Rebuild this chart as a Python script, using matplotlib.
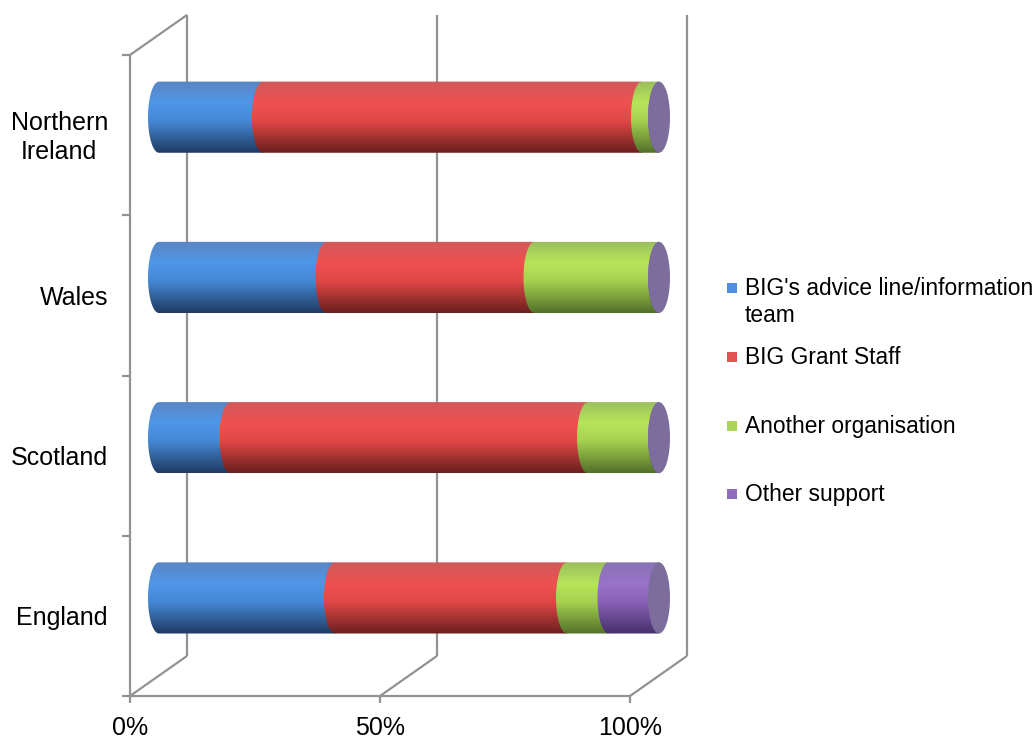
import numpy as np
import matplotlib
matplotlib.use('Agg')
import matplotlib.pyplot as plt
from matplotlib.patches import Ellipse, PathPatch, Rectangle
from matplotlib.path import Path
from matplotlib.colors import LinearSegmentedColormap

plt.rcParams['font.family'] = ['Liberation Sans', 'DejaVu Sans']

# share of respondents by source of support (%), bottom row first
regions = ['England', 'Scotland', 'Wales', 'Northern\nIreland']
advice_line = [35.2, 14.3, 33.5, 20.8]
grant_staff = [46.4, 71.5, 41.6, 75.8]
another_org = [8.3, 14.2, 24.9, 3.4]
other_support = [10.1, 0.0, 0.0, 0.0]
series_names = ["BIG's advice line/information\nteam", 'BIG Grant Staff',
                'Another organisation', 'Other support']
x_ticks = [0, 50, 100]
x_tick_labels = ['0%', '50%', '100%']

# shading stops (top edge, highlight, mid, bottom) for each series
shades = [
    ['#5a86c4', '#4f96e8', '#4589d6', '#1f3a62'],
    ['#d05a5a', '#ee5150', '#e04846', '#6a1e1e'],
    ['#9cbc5c', '#b6e65a', '#a6d250', '#52702a'],
    ['#8872b4', '#9a72c8', '#8a62b8', '#44306a'],
]
legend_colors = ['#4f8ede', '#e25452', '#aad45a', '#8e6cbe']
cap_color = '#7d6d9c'
grid_color = '#929292'

fig = plt.figure(figsize=(10.36, 7.44), dpi=100)
# 0..100 % spans 500 px; axes run a bit further right so the end caps are not clipped
ax = fig.add_axes([130 / 1036, 48 / 744, 600 / 1036, 641 / 744])
ax.set_xlim(0, 120)
ax.set_ylim(-0.5, 3.5)
ax.axis('off')

# depth of the 3-D box in data units (back wall offset)
depth_x, depth_y = 11.4, 0.25
# cylinders sit half way back
cyl_dx, cyl_dy = 5.8, 0.112
rx, ry = 2.2, 0.222

line_kw = dict(color=grid_color, lw=1.6, clip_on=False, solid_capstyle='butt', zorder=1)

# floor
ax.plot([-1.6, 100], [-0.5, -0.5], **line_kw)
for x in x_ticks:
    ax.plot([x, x], [-0.5, -0.545], **line_kw)
    ax.plot([x, x + depth_x], [-0.5, -0.5 + depth_y], **line_kw)
    # back wall gridlines
    ax.plot([x + depth_x, x + depth_x], [-0.5 + depth_y, 3.5 + depth_y], **line_kw)

# left wall
ax.plot([0, 0], [-0.5, 3.5], **line_kw)
ax.plot([0, depth_x], [3.5, 3.5 + depth_y], **line_kw)
for y in [0.5, 1.5, 2.5, 3.5]:
    ax.plot([-1.6, 0], [y, y], **line_kw)

# cylinders
values = np.array([advice_line, grant_staff, another_org, other_support])
grad = np.linspace(0, 1, 256).reshape(-1, 1)
cmaps = [LinearSegmentedColormap.from_list('s%d' % k,
         list(zip([0.0, 0.3, 0.55, 1.0], stops)))
         for k, stops in enumerate(shades)]

for i in range(len(regions)):
    yc = i + cyl_dy
    left = 0.0
    for k in range(len(series_names)):
        right = left + values[k, i]
        xa, xb = left + cyl_dx, right + cyl_dx
        th = np.linspace(np.pi / 2, 3 * np.pi / 2, 60)
        verts = list(zip(xa + rx * np.cos(th), yc + ry * np.sin(th)))
        verts += [(xb, yc - ry), (xb, yc + ry), (xa, yc + ry)]
        codes = [Path.MOVETO] + [Path.LINETO] * (len(verts) - 2) + [Path.CLOSEPOLY]
        patch = PathPatch(Path(verts, codes), facecolor='none', edgecolor='none')
        ax.add_patch(patch)
        im = ax.imshow(grad, cmap=cmaps[k], aspect='auto', interpolation='bilinear',
                       extent=[xa - rx, xb, yc - ry, yc + ry], origin='upper',
                       zorder=2 + k * 0.01)
        im.set_clip_path(patch)
        left = right
    ax.add_patch(Ellipse((left + cyl_dx, yc), 2 * rx, 2 * ry, facecolor=cap_color,
                         edgecolor='none', zorder=3))

ax.set_xlim(0, 120)
ax.set_ylim(-0.5, 3.5)

# category labels on the front of the left wall
for i, name in enumerate(regions):
    ax.text(-4.4, i - 0.015, name, ha='right', va='center', multialignment='center',
            fontsize=18, color='black', clip_on=False, linespacing=1.3)

for x, lab in zip(x_ticks, x_tick_labels):
    ax.text(x, -0.7, lab, ha='center', va='center', fontsize=18, clip_on=False)

# legend
legend_y = [288, 357, 426, 494]
for name, col, y in zip(series_names, legend_colors, legend_y):
    fig.patches.append(Rectangle((727 / 1036, 1 - (y + 5) / 744), 10 / 1036, 10 / 744,
                                 transform=fig.transFigure, facecolor=col,
                                 edgecolor='none'))
    fig.text(745 / 1036, 1 - (y - 11) / 744, name, ha='left', va='top',
             fontsize=16.4, linespacing=1.25)

fig.savefig('out.png', dpi=100)
